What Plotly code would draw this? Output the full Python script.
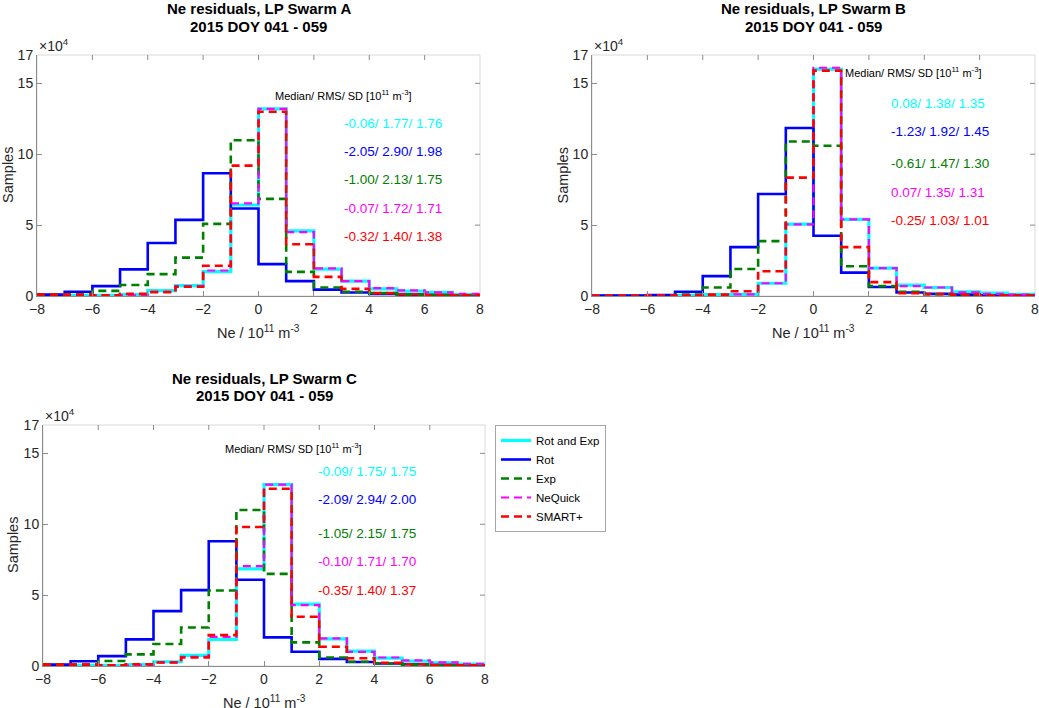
import plotly.graph_objects as go

# ---------------- data (units of 1e4 samples) ----------------
edges = list(range(-8, 9))  # bin edges, Ne residual / 1e11 m^-3

series_names = ["Rot and Exp", "Rot", "Exp", "NeQuick", "SMART+"]

A_rotexp = [0.05, 0.05, 0.05, 0.1, 0.38, 0.73, 1.72, 6.42, 13.2, 4.6, 1.9, 1.05, 0.5, 0.35, 0.25, 0.1]
A_rot    = [0.1, 0.3, 0.7, 1.88, 3.74, 5.37, 8.66, 6.17, 2.25, 1.05, 0.45, 0.25, 0.15, 0.1, 0.07, 0.05]
A_exp    = [0.1, 0.1, 0.36, 0.78, 1.54, 2.71, 5.09, 10.99, 6.85, 1.7, 0.6, 0.3, 0.2, 0.1, 0.07, 0.05]
A_neq    = [0.05, 0.05, 0.05, 0.05, 0.3, 0.7, 1.8, 6.54, 13.2, 4.5, 1.95, 1.05, 0.55, 0.4, 0.25, 0.15]
A_smart  = [0.1, 0.1, 0.05, 0.15, 0.27, 0.65, 2.13, 9.2, 13.0, 3.65, 1.35, 0.5, 0.2, 0.12, 0.07, 0.05]

B_rotexp = [0.02, 0.02, 0.02, 0.05, 0.1, 0.12, 0.9, 5.07, 16.0, 5.4, 1.97, 0.77, 0.6, 0.3, 0.2, 0.12]
B_rot    = [0.03, 0.03, 0.07, 0.3, 1.4, 3.45, 7.2, 11.85, 4.25, 1.65, 0.63, 0.25, 0.15, 0.1, 0.05, 0.03]
B_exp    = [0.02, 0.02, 0.02, 0.1, 0.6, 1.9, 3.87, 10.9, 10.6, 2.1, 0.7, 0.3, 0.12, 0.07, 0.04, 0.02]
B_neq    = [0.02, 0.02, 0.02, 0.05, 0.08, 0.12, 0.9, 5.05, 16.1, 5.4, 1.97, 0.7, 0.6, 0.25, 0.15, 0.1]
B_smart  = [0.02, 0.02, 0.02, 0.05, 0.1, 0.33, 1.75, 8.35, 15.9, 3.45, 0.98, 0.2, 0.14, 0.08, 0.05, 0.03]

C_rotexp = [0.05, 0.05, 0.05, 0.1, 0.3, 0.75, 1.88, 6.85, 12.8, 4.37, 1.92, 1.05, 0.55, 0.35, 0.23, 0.14]
C_rot    = [0.1, 0.33, 0.7, 1.88, 3.87, 5.35, 8.8, 6.08, 2.02, 1.0, 0.5, 0.28, 0.18, 0.12, 0.07, 0.05]
C_exp    = [0.1, 0.1, 0.35, 0.82, 1.55, 2.72, 5.33, 11.0, 6.5, 1.67, 0.6, 0.3, 0.18, 0.1, 0.07, 0.05]
C_neq    = [0.05, 0.05, 0.05, 0.05, 0.25, 0.65, 2.05, 7.05, 12.8, 4.3, 1.95, 1.0, 0.6, 0.4, 0.25, 0.15]
C_smart  = [0.1, 0.1, 0.05, 0.12, 0.25, 0.6, 2.18, 9.8, 12.5, 3.47, 1.36, 0.55, 0.23, 0.12, 0.07, 0.05]

A_stats = ["-0.06/ 1.77/ 1.76", "-2.05/ 2.90/ 1.98", "-1.00/ 2.13/ 1.75", "-0.07/ 1.72/ 1.71", "-0.32/ 1.40/ 1.38"]
B_stats = ["0.08/ 1.38/ 1.35", "-1.23/ 1.92/ 1.45", "-0.61/ 1.47/ 1.30", "0.07/ 1.35/ 1.31", "-0.25/ 1.03/ 1.01"]
C_stats = ["-0.09/ 1.75/ 1.75", "-2.09/ 2.94/ 2.00", "-1.05/ 2.15/ 1.75", "-0.10/ 1.71/ 1.70", "-0.35/ 1.40/ 1.37"]

panel_titles = ["Ne residuals, LP Swarm A", "Ne residuals, LP Swarm B", "Ne residuals, LP Swarm C"]
subtitle = "2015 DOY 041 - 059"
stats_header = "Median/ RMS/ SD [10<sup>11</sup> m<sup>-3</sup>]"
x_title = "Ne / 10<sup>11</sup> m<sup>-3</sup>"
y_title = "Samples"
y_tickvals = [0, 5, 10, 15, 17]
x_tickvals = [-8, -6, -4, -2, 0, 2, 4, 6, 8]

# ---------------- styling ----------------
W, H = 1039, 708
FONT = "Liberation Sans, Arial, Helvetica, sans-serif"
TXT = "#262626"
styles = [
    dict(color="#00ffff", width=3.2, dash="solid"),
    dict(color="#0000ff", width=2.6, dash="solid"),
    dict(color="#008000", width=2.6, dash="8px,5px"),
    dict(color="#ff00ff", width=2.2, dash="8px,5px"),
    dict(color="#ff0000", width=2.6, dash="8px,5px"),
]
stat_colors = ["#00ffff", "#0000ff", "#008000", "#ff00ff", "#ff0000"]

# panel boxes in pixels: (left, right, top, bottom)
boxes = [(37, 480, 55, 296), (592, 1035, 55, 296), (43, 485, 425, 666)]
header_pos = [(0.52, 14.2), (1.05, 15.8), (-1.49, 15.4)]
stats_pos = [(3.0, [12.2, 10.2, 8.24, 6.2, 4.2]),
             (2.73, [13.6, 11.6, 9.34, 7.3, 5.3]),
             (1.89, [13.75, 11.74, 9.35, 7.35, 5.35])]
ylabel_x = [7.5, 562, 12.5]

panels = [
    [A_rotexp, A_rot, A_exp, A_neq, A_smart],
    [B_rotexp, B_rot, B_exp, B_neq, B_smart],
    [C_rotexp, C_rot, C_exp, C_neq, C_smart],
]
all_stats = [A_stats, B_stats, C_stats]

fig = go.Figure()
annotations = []
shapes = []

for p, (series, box) in enumerate(zip(panels, boxes)):
    L, R, T, B = box
    suffix = "" if p == 0 else str(p + 1)
    xa, ya = "x" + suffix, "y" + suffix
    for k, vals in enumerate(series):
        fig.add_trace(go.Scatter(
            x=edges, y=list(vals) + [vals[-1]],
            mode="lines", line_shape="hv",
            line=styles[k], name=series_names[k],
            xaxis=xa, yaxis=ya,
            showlegend=(p == 2), hoverinfo="skip",
        ))
    xdom = [L / W, R / W]
    ydom = [1 - B / H, 1 - T / H]
    axcommon = dict(showline=True, linecolor="#8c8c8c", linewidth=1, mirror=False,
                    ticks="inside", ticklen=5, tickcolor="#8c8c8c", showgrid=False,
                    zeroline=False, automargin=False, ticklabeloverflow="allow",
                    tickfont=dict(family=FONT, size=14, color=TXT))
    fig.update_layout(**{
        "xaxis" + suffix: dict(domain=xdom, range=[-8, 8], tickvals=x_tickvals,
                               anchor=ya, **axcommon),
        "yaxis" + suffix: dict(domain=ydom, range=[0, 17], tickvals=y_tickvals,
                               anchor=xa, **axcommon),
    })
    # light box (top/right)
    shapes.append(dict(type="rect", xref=xa + " domain", yref=ya + " domain",
                       x0=0, x1=1, y0=0, y1=1, line=dict(color="#d9d9d9", width=1),
                       layer="below"))
    # mirrored ticks top and right
    for tv in x_tickvals[1:-1]:
        shapes.append(dict(type="line", xref=xa, yref=ya + " domain", x0=tv, x1=tv,
                           y0=1, y1=1 - 5 / (B - T), line=dict(color="#8c8c8c", width=1)))
    for tv in y_tickvals[1:-1]:
        shapes.append(dict(type="line", xref=xa + " domain", yref=ya, x0=1, x1=1 - 5 / (R - L),
                           y0=tv, y1=tv, line=dict(color="#8c8c8c", width=1)))
    cx = (L + R) / 2 / W
    off = T - 55
    # titles
    annotations.append(dict(x=cx, y=1 - (8 + off) / H, xref="paper", yref="paper",
                            text="<b>" + panel_titles[p] + "</b>", showarrow=False,
                            xanchor="center", yanchor="middle",
                            font=dict(family=FONT, size=15, color="#000000")))
    annotations.append(dict(x=cx, y=1 - (26 + off) / H, xref="paper", yref="paper",
                            text="<b>" + subtitle + "</b>", showarrow=False,
                            xanchor="center", yanchor="middle",
                            font=dict(family=FONT, size=15, color="#000000")))
    # x10^4 exponent label
    annotations.append(dict(x=0, y=1, xref=xa + " domain", yref=ya + " domain",
                            text="×10<sup>4</sup>", showarrow=False,
                            xanchor="left", yanchor="bottom", yshift=-1,
                            font=dict(family=FONT, size=14, color=TXT)))
    # axis titles
    annotations.append(dict(x=cx, y=1 - (B + 36) / H, xref="paper", yref="paper",
                            text=x_title, showarrow=False, xanchor="center", yanchor="middle",
                            font=dict(family=FONT, size=14.5, color=TXT)))
    annotations.append(dict(x=ylabel_x[p] / W, y=1 - (T + B) / 2 / H, xref="paper", yref="paper",
                            text=y_title, showarrow=False, textangle=-90,
                            xanchor="center", yanchor="middle",
                            font=dict(family=FONT, size=14.5, color=TXT)))
    # stats header and lines
    hx, hy = header_pos[p]
    annotations.append(dict(x=hx, y=hy, xref=xa, yref=ya, text=stats_header, showarrow=False,
                            xanchor="left", yanchor="middle",
                            font=dict(family=FONT, size=11, color="#000000")))
    sx, sys_ = stats_pos[p]
    for k, s in enumerate(all_stats[p]):
        annotations.append(dict(x=sx, y=sys_[k], xref=xa, yref=ya, text=s, showarrow=False,
                                xanchor="left", yanchor="middle",
                                font=dict(family=FONT, size=13.5, color=stat_colors[k])))

fig.update_layout(
    width=W, height=H,
    margin=dict(l=0, r=0, t=0, b=0, autoexpand=False),
    paper_bgcolor="white", plot_bgcolor="white",
    annotations=annotations, shapes=shapes,
    legend=dict(x=495 / W, y=1 - 425 / H, xanchor="left", yanchor="top",
                bordercolor="#a6a6a6", borderwidth=1, bgcolor="white",
                font=dict(family=FONT, size=11.5, color="#000000"),
                tracegroupgap=0, itemwidth=30),
    font=dict(family=FONT),
)

fig.write_html("out.html", config={"displayModeBar": False},
               post_script="document.body.style.margin='0';document.body.style.overflow='hidden';")
